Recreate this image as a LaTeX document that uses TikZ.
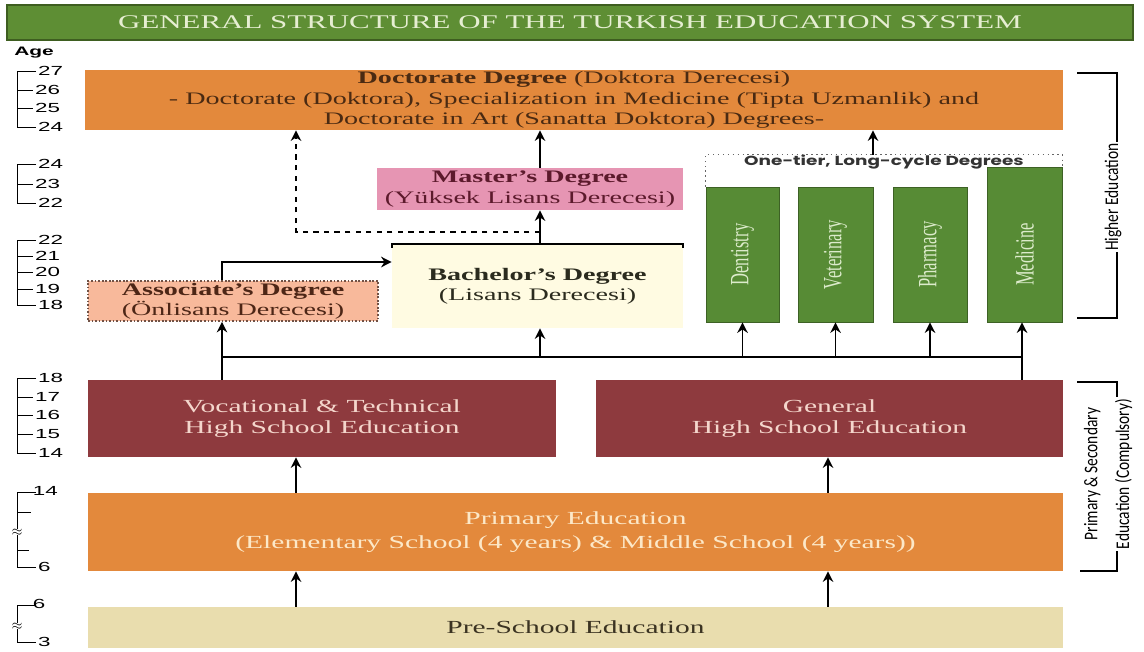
\documentclass[tikz,border=0pt]{standalone}
\usepackage{fontspec}
\setmainfont{Liberation Serif}[FakeStretch=1.6]
\newfontfamily\narrowserif{Liberation Serif}[FakeStretch=0.63]
\newfontfamily\narrowsans{Carlito}[FakeStretch=0.8]
\newfontfamily\agesans{Liberation Sans}[FakeStretch=1.7]
\newfontfamily\tiersans{Poppins}[FakeStretch=1.4]
\usetikzlibrary{arrows.meta}
\definecolor{titlegreen}{HTML}{5E8E34}
\definecolor{titledark}{HTML}{3E5E20}
\definecolor{titletext}{HTML}{E6EED2}
\definecolor{docorange}{HTML}{E3893C}
\definecolor{docbrown}{HTML}{4A2A12}
\definecolor{maspink}{HTML}{E695B3}
\definecolor{masred}{HTML}{5C1A2C}
\definecolor{baccream}{HTML}{FFFBE2}
\definecolor{bactext}{HTML}{2B2B1E}
\definecolor{asosalmon}{HTML}{F8B99B}
\definecolor{asotext}{HTML}{4D2616}
\definecolor{longgreen}{HTML}{578B35}
\definecolor{greentxt}{HTML}{DCEBCB}
\definecolor{highred}{HTML}{8E3A3E}
\definecolor{highpink}{HTML}{F4D6CC}
\definecolor{primtext}{HTML}{FCE8C8}
\definecolor{prebeige}{HTML}{E9DDAE}
\definecolor{pretext}{HTML}{3B3322}

\begin{document}
\begin{tikzpicture}[x=0.02cm,y=-0.02cm,
 box/.style={inner sep=0pt,align=center,font=\fontsize{10}{11.5}\selectfont},
 gbox/.style={inner sep=0pt,fill=longgreen,draw=longgreen!70!black,text=greentxt,
   font=\narrowserif\fontsize{15}{15}\selectfont},
 arr/.style={->,>={Stealth[length=6pt,width=6pt]},line width=1pt},
 agelab/.style={anchor=west,inner sep=1pt,font=\agesans\fontsize{7.5}{8}\selectfont},
 bracklab/.style={fill=white,inner sep=1pt,font=\narrowsans\fontsize{11}{12}\selectfont}]
 \useasboundingbox (0,0) rectangle (1144,652);

 \node[box,fill=titlegreen,draw=titledark,line width=1.5pt,minimum width=22.52cm,minimum height=0.7cm,
   text=titletext,font=\fontsize{11}{12}\selectfont] (Title) at (570,22.5)
   {GENERAL STRUCTURE OF THE TURKISH EDUCATION SYSTEM};

 \node[box,fill=docorange,text=docbrown,minimum width=19.56cm,minimum height=1.2cm] (Doc) at (574,100)
   {\textbf{Doctorate Degree} (Doktora Derecesi)\\- Doctorate (Doktora), Specialization in Medicine (Tipta Uzmanlik) and\\Doctorate in Art (Sanatta Doktora) Degrees-};
 \node[box,fill=maspink,text=masred,minimum width=6.12cm,minimum height=0.84cm] (Mas) at (530,189)
   {\textbf{Master's Degree}\\(Yüksek Lisans Derecesi)};
 \node[box,fill=baccream,text=bactext,minimum width=5.82cm,minimum height=1.68cm] (Bac) at (537.5,286)
   {\textbf{Bachelor's Degree}\\(Lisans Derecesi)};
 \node[box,fill=asosalmon,draw=asotext!80,densely dotted,line width=1pt,text=asotext,
   minimum width=5.8cm,minimum height=0.8cm] (Aso) at (233,301)
   {\textbf{Associate's Degree}\\(Önlisans Derecesi)};

 \node[gbox,minimum width=1.46cm,minimum height=2.7cm] (Den) at (742.5,254.5) {\rotatebox{90}{Dentistry}};
 \node[gbox,minimum width=1.5cm,minimum height=2.7cm] (Vet) at (835.5,254.5) {\rotatebox{90}{Veterinary}};
 \node[gbox,minimum width=1.48cm,minimum height=2.7cm] (Pha) at (930,254.5) {\rotatebox{90}{Pharmacy}};
 \node[gbox,minimum width=1.5cm,minimum height=3.1cm] (Med) at (1024.5,244.5) {\rotatebox{90}{Medicine\hspace{0.4cm}}};
 \node[inner sep=0pt,minimum width=7.16cm,minimum height=0.64cm] (Tier) at (884,171) {};
 \node[inner sep=0pt,font=\tiersans\bfseries\fontsize{7.5}{8}\selectfont,text=black!80] (TierT) at (884,162)
   {One-tier, Long-cycle Degrees};
 \draw[dotted,line width=0.8pt,black!60] (Den.north west) |- (Tier.north) -| (Med.north east);

 \node[box,fill=highred,text=highpink,minimum width=9.36cm,minimum height=1.54cm,
   font=\fontsize{10.5}{12}\selectfont] (Voc) at (322,418.5)
   {Vocational \& Technical\\High School Education};
 \node[box,fill=highred,text=highpink,minimum width=9.34cm,minimum height=1.54cm,
   font=\fontsize{10.5}{12}\selectfont] (Gen) at (829.5,418.5)
   {General\\High School Education};
 \node[box,fill=docorange,text=primtext,minimum width=19.5cm,minimum height=1.56cm,
   font=\fontsize{10.5}{13.5}\selectfont] (Pri) at (575.5,532)
   {Primary Education\\(Elementary School (4 years) \& Middle School (4 years))};
 \node[box,fill=prebeige,text=pretext,minimum width=19.5cm,minimum height=0.82cm,
   font=\fontsize{10.5}{12}\selectfont] (Pre) at (575.5,627.5)
   {Pre-School Education};

 \coordinate (c1) at (296,0);
 \coordinate (c2) at (828,0);
 \coordinate (a1) at (222,0);
 \coordinate (c3) at (540,0);
 \coordinate (c5) at (873,0);
 \coordinate (m1) at (1022,0);
 \coordinate (hub) at (0,357);
 \coordinate (d1) at (0,232);

 \draw[arr] (Pre.north -| c1) -- (Pri.south -| c1);
 \draw[arr] (Pre.north -| c2) -- (Pri.south -| c2);
 \draw[arr] (Pri.north -| c1) -- (Voc.south -| c1);
 \draw[arr] (Pri.north -| c2) -- (Gen.south -| c2);
 \draw[arr] (Voc.north -| a1) -- (Aso.south -| a1);
 \draw[line width=1pt] (a1 |- hub) -- (m1 |- hub);
 \draw[arr] (Gen.north -| m1) -- (Med.south -| m1);
 \draw[arr] (Den.south |- hub) -- (Den.south);
 \draw[arr] (Vet.south |- hub) -- (Vet.south);
 \draw[arr] (Pha.south |- hub) -- (Pha.south);
 \draw[arr] (c3 |- hub) -- (Bac.south -| c3);
 \draw[arr] (Aso.north -| a1) |- ([yshift=0.48cm]Bac.west);
 \draw[line width=1pt] ([yshift=-0.08cm]Bac.north west) -- (Bac.north west) -- (Bac.north east) -- ([yshift=-0.08cm]Bac.north east);
 \draw[arr] (Bac.north -| c3) -- (Mas.south -| c3);
 \draw[arr,dashed] (c3 |- d1) -| (Doc.south -| c1);
 \draw[arr] (Mas.north -| c3) -- (Doc.south -| c3);
 \draw[arr] (Tier.north -| c5) -- (Doc.south -| c5);

 \draw[line width=1pt] (1077,73) -- (1117,73) -- (1117,318) -- (1077,318);
 \node[bracklab] (HE) at (1113,197) {\rotatebox{90}{Higher Education}};
 \draw[line width=1pt] (1077,382) -- (1117,382) -- (1117,571) -- (1080,571);
 \node[bracklab] (PS) at (1109,474)
   {\rotatebox{90}{\begin{tabular}{@{}c@{}}Primary \& Secondary\\[6pt]Education (Compulsory)\end{tabular}}};

 \node[anchor=west,inner sep=0pt,font=\agesans\bfseries\fontsize{7}{8}\selectfont] (Age) at (14,53) {Age};
 \draw (36,71) node[agelab]{27} -- (17,71) -- (17,127) -- (36,127) node[agelab]{24};
 \draw (17,90) -- (33,90) node[agelab]{26};
 \draw (17,108) -- (33,108) node[agelab]{25};
 \draw (36,164) node[agelab]{24} -- (17,164) -- (17,203) -- (36,203) node[agelab]{22};
 \draw (17,184) -- (33,184) node[agelab]{23};
 \draw (36,240) node[agelab]{22} -- (17,240) -- (17,305) -- (36,305) node[agelab]{18};
 \draw (17,256) -- (33,256) node[agelab]{21};
 \draw (17,272) -- (33,272) node[agelab]{20};
 \draw (17,289) -- (33,289) node[agelab]{19};
 \draw (36,378) node[agelab]{18} -- (17,378) -- (17,453) -- (36,453) node[agelab]{14};
 \draw (17,397) -- (33,397) node[agelab]{17};
 \draw (17,415) -- (33,415) node[agelab]{16};
 \draw (17,434) -- (33,434) node[agelab]{15};
 \draw (36,492) node[agelab,above right=-3pt]{14} -- (17,492) -- (17,567) -- (36,567) node[agelab]{6};
 \draw (17,512) -- (31,512);
 \draw (17,550) -- (29,550);
 \node[fill=white,inner sep=0pt,font=\scriptsize] (br1) at (17,532) {$\approx$};
 \draw (36,605) node[agelab,above right=-3pt]{6} -- (17,605) -- (17,642) -- (36,642) node[agelab]{3};
 \node[fill=white,inner sep=0pt,font=\scriptsize] (br2) at (17,626) {$\approx$};
\end{tikzpicture}
\end{document}
